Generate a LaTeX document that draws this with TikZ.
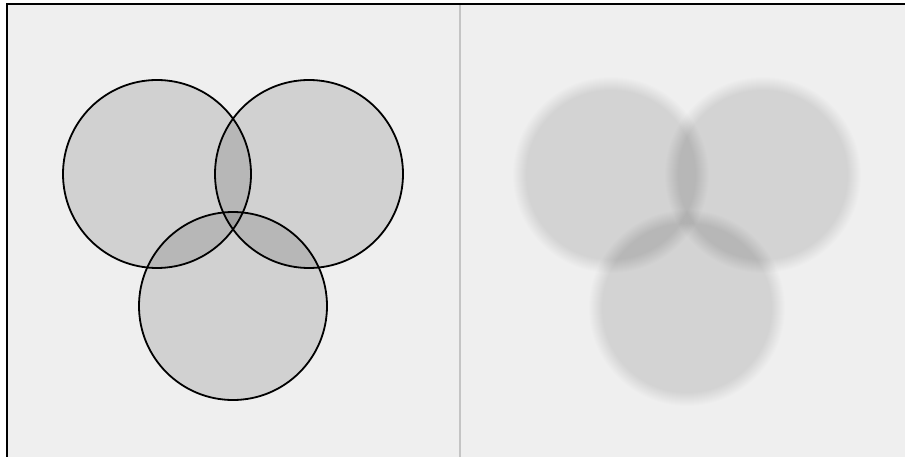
\documentclass[tikz,border=0pt]{standalone}
\begin{document}
\begin{tikzpicture}[x=1pt,y=-1pt,
  sharp/.style={fill=black,fill opacity=0.12,draw=black,draw opacity=1,line width=1.8pt},
  panel/.style={fill=bgc,draw=none}]
\definecolor{bgc}{HTML}{EFEFEF}
\definecolor{divc}{HTML}{C4C4C4}
\useasboundingbox (0,0) rectangle (905,457);
\fill[white] (0,0) rectangle (905,457);
\fill[bgc] (6.5,4.3) rectangle (905,457);
\draw[divc,line width=2.5pt] (460,5) -- (460,457);
\draw[black,line width=2pt] (6.5,457) -- (6.5,4.3) -- (905,4.3);
% left: sharp circles
\foreach \cx/\cy/\nm in {157/174/a,309/174/b,233/306/c}{
  \path[sharp] (\cx,\cy) circle[radius=94];
  \coordinate (\nm) at (\cx,\cy);
}
% right: blurred circles
\foreach \cx/\cy/\nm in {611/175/d,763/175/e,687/308/f}{
  \coordinate (\nm) at (\cx,\cy);
  \foreach \i in {0,...,13}{
    \fill[black,fill opacity=0.0091] (\cx,\cy) circle[radius={85+\i}];
  }
}
\end{tikzpicture}
\end{document}
